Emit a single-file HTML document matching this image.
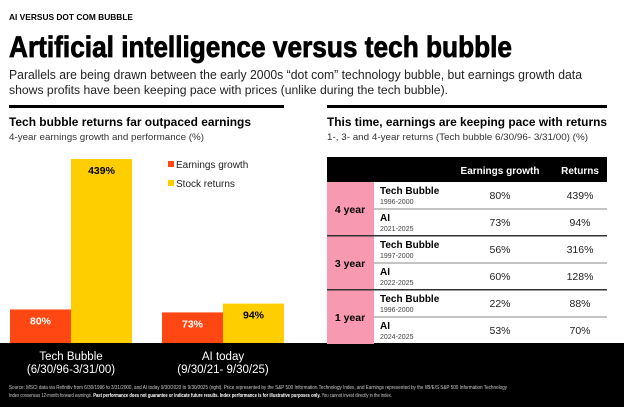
<!DOCTYPE html>
<html><head><meta charset="utf-8"><style>
html,body{margin:0;padding:0;background:#fff;}
svg{display:block;font-family:"Liberation Sans",sans-serif;}
</style></head><body>
<svg id="s" width="624" height="407" viewBox="0 0 624 407">
<text x="9" y="20" font-size="8.5" font-weight="bold" textLength="124" lengthAdjust="spacingAndGlyphs">AI VERSUS DOT COM BUBBLE</text>
<text x="9" y="57" font-size="30" font-weight="bold" stroke="#000" stroke-width="0.8" textLength="503" lengthAdjust="spacingAndGlyphs">Artificial intelligence versus tech bubble</text>
<text x="9" y="79" font-size="12.5" fill="#222" textLength="573" lengthAdjust="spacingAndGlyphs">Parallels are being drawn between the early 2000s “dot com” technology bubble, but earnings growth data</text>
<text x="9" y="94" font-size="12.2" fill="#222">shows profits have been keeping pace with prices (unlike during the tech bubble).</text>

<rect x="9" y="105" width="275" height="3" fill="#000"/>
<text x="9" y="126" font-size="11.5" font-weight="bold" textLength="242" lengthAdjust="spacingAndGlyphs">Tech bubble returns far outpaced earnings</text>
<text x="9" y="140" font-size="9.5" fill="#333" textLength="195" lengthAdjust="spacingAndGlyphs">4-year earnings growth and performance (%)</text>

<rect x="327" y="105" width="280" height="3" fill="#000"/>
<text x="327" y="126" font-size="11.5" font-weight="bold" textLength="280" lengthAdjust="spacingAndGlyphs">This time, earnings are keeping pace with returns</text>
<text x="327" y="140" font-size="9.5" fill="#333" textLength="261" lengthAdjust="spacingAndGlyphs">1-, 3- and 4-year returns (Tech bubble 6/30/96- 3/31/00) (%)</text>

<rect x="0" y="343" width="624" height="64" fill="#000"/>
<g id="bars"></g>
<g>
<rect x="168" y="161" width="6" height="6" fill="#ff4713"/>
<text x="176" y="168" font-size="10" fill="#222">Earnings growth</text>
<rect x="168" y="180" width="6" height="6" fill="#ffce00"/>
<text x="176" y="187" font-size="10" fill="#222">Stock returns</text>
</g>
<g id="table"></g>
<text x="9" y="389" font-size="5.2" fill="#ccc" textLength="498" lengthAdjust="spacingAndGlyphs">Source: MSCI data via Refinitiv from 6/30/1996 to 3/31/2000, and AI today 9/30/2020 to 9/30/2025 (right). Price represented by the S&amp;P 500 Information Technology Index, and  Earnings represented by the I/B/E/S S&amp;P 500 Information Technology</text>
<text x="9" y="397" font-size="5.2" fill="#ccc" textLength="383" lengthAdjust="spacingAndGlyphs"><tspan>Index consensus 12-month forward earnings. </tspan><tspan fill="#fff" font-weight="bold">Past performance does not guarantee or indicate future results. Index performance is for illustrative purposes only.</tspan><tspan> You cannot invest directly in the index.</tspan></text>
</svg>
<script>
const categories = ["Tech Bubble", "AI today"];
const periods = ["(6/30/96-3/31/00)", "(9/30/21- 9/30/25)"];
const earnings = [80, 73];
const returns = [439, 94];
const tableGroups = ["4 year", "3 year", "1 year"];
const tableNames = ["Tech Bubble", "AI", "Tech Bubble", "AI", "Tech Bubble", "AI"];
const tableYears = ["1996-2000", "2021-2025", "1997-2000", "2022-2025", "1996-2000", "2024-2025"];
const tableEarnings = [80, 73, 56, 60, 22, 53];
const tableReturns = [439, 94, 316, 128, 88, 70];

const NS = "http://www.w3.org/2000/svg";
function mk(parent, tag, attrs, txt) {
  const e = document.createElementNS(NS, tag);
  for (const k in attrs) e.setAttribute(k, attrs[k]);
  if (txt !== undefined) e.textContent = txt;
  parent.appendChild(e);
  return e;
}
const base = 343, pxPer = 184 / 439;
function y(v) { return base - v * pxPer; }
const groupX = [10, 162], bw = 61;
const bars = document.getElementById("bars");
categories.forEach((c, i) => {
  const x0 = groupX[i];
  const r1 = mk(bars, "rect", {x: x0, y: y(earnings[i]), width: bw, height: base - y(earnings[i]), fill: "#ff4713"});
  
  
  const r2 = mk(bars, "rect", {x: x0 + bw, y: y(returns[i]), width: bw, height: base - y(returns[i]), fill: "#ffce00"});
  
  
  const t1 = mk(bars, "text", {x: x0 + bw / 2, y: y(earnings[i]) + 15, "font-size": 10.5, "font-weight": "bold", fill: "#fff", "text-anchor": "middle"}, earnings[i] + "%");
  
  
  const t2 = mk(bars, "text", {x: x0 + bw * 1.5, y: y(returns[i]) + 15, "font-size": 10.5, "font-weight": "bold", fill: "#000", "text-anchor": "middle"}, returns[i] + "%");
  
  
  const c1 = mk(bars, "text", {x: x0 + bw, y: 360, "font-size": 11.5, fill: "#fff", "text-anchor": "middle"}, c);
  
  
  const c2 = mk(bars, "text", {x: x0 + bw, y: 373, "font-size": 11.5, fill: "#fff", "text-anchor": "middle"}, periods[i]);
  
  
});

const tb = document.getElementById("table");
const hdr = mk(tb, "rect", {x: 327, y: 157, width: 280, height: 25, fill: "#000"});


const h1 = mk(tb, "text", {x: 500, y: 174, "font-size": 10, "font-weight": "bold", fill: "#fff", "text-anchor": "middle"}, "Earnings growth");


const h2 = mk(tb, "text", {x: 580, y: 174, "font-size": 10, "font-weight": "bold", fill: "#fff", "text-anchor": "middle"}, "Returns");


const rowH = 27, top0 = 182;
tableGroups.forEach((g, i) => {
  const p = mk(tb, "rect", {x: 327, y: top0 + i * 2 * rowH, width: 47, height: 2 * rowH, fill: "#f799b0"});
  
  
  const t = mk(tb, "text", {x: 350, y: top0 + i * 2 * rowH + rowH + 4, "font-size": 10.5, "font-weight": "bold", "text-anchor": "middle"}, g);
  
  
});
tableNames.forEach((n, r) => {
  const ty = top0 + r * rowH;
  const a = mk(tb, "text", {x: 380, y: ty + 12, "font-size": 10, "font-weight": "bold"}, n);
  
  
  const b = mk(tb, "text", {x: 380, y: ty + 22, "font-size": 7, fill: "#444"}, tableYears[r]);
  
  
  const c = mk(tb, "text", {x: 500, y: ty + 17, "font-size": 10.5, fill: "#222", "text-anchor": "middle"}, tableEarnings[r] + "%");
  
  
  const d = mk(tb, "text", {x: 580, y: ty + 17, "font-size": 10.5, fill: "#222", "text-anchor": "middle"}, tableReturns[r] + "%");
  
  
  if (r < tableNames.length - 1) {
    const thick = r % 2 === 1;
    const l = mk(tb, "rect", {x: thick ? 327 : 374, y: ty + rowH - (thick ? 1 : 0.5), width: thick ? 280 : 233, height: thick ? 1.5 : 1, fill: thick ? "#333" : "#888"});
    
    
  }
});
</script>
</body></html>
